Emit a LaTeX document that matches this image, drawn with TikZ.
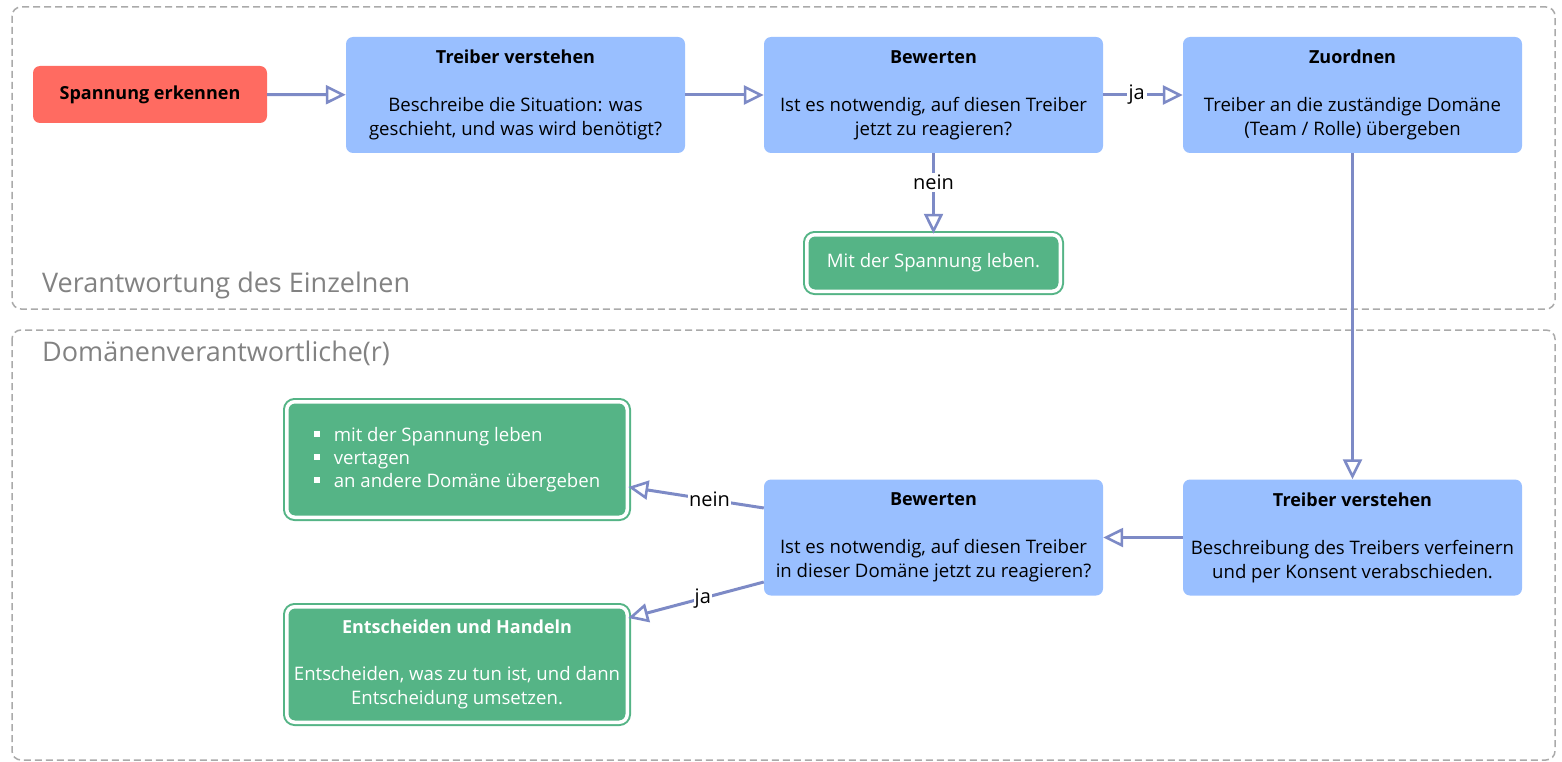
\documentclass[tikz,border=0pt]{standalone}
\usepackage{fontspec}
\setmainfont{Open Sans}
\usetikzlibrary{arrows.meta}
\definecolor{cred}{RGB}{255,107,97}
\definecolor{cblue}{RGB}{153,191,255}
\definecolor{cgreen}{RGB}{85,180,134}
\definecolor{carrow}{RGB}{125,138,198}
\definecolor{cdash}{RGB}{170,170,170}
\definecolor{clabel}{RGB}{130,130,130}
\newcommand{\ttl}[1]{{\fontsize{18}{24}\selectfont\bfseries #1}}
\newcommand{\sqbul}{\raisebox{4pt}{\rule{6pt}{6pt}}\hspace{14pt}}
\tikzset{
  txt/.style={font=\fontsize{18.6}{24}\selectfont},
  redbox/.style={txt, fill=cred, rounded corners=7pt, align=center, inner sep=0pt},
  bluebox/.style={txt, fill=cblue, rounded corners=7pt, align=center, inner sep=0pt,
    minimum width=339pt, minimum height=116pt},
  greenbox/.style={txt, text=white, fill=cgreen, draw=cgreen, double=white, double distance=3.5pt,
    line width=2pt, rounded corners=8pt, inner sep=0pt},
  lane/.style={draw=cdash, dash pattern=on 7pt off 4pt, line width=1.5pt, rounded corners=9pt},
  lanelabel/.style={font=\fontsize{27}{30}\selectfont, text=clabel, anchor=base west, inner sep=0pt},
  flow/.style={draw=carrow, line width=3pt, -{Triangle[open, length=20pt, width=19pt, line width=2.6pt, fill=white]}},
  lbl/.style={font=\fontsize{20}{24}\selectfont, fill=white, inner sep=2pt},
}
\begin{document}
\begin{tikzpicture}[x=1pt,y=-1pt]
\useasboundingbox (0,0) rectangle (1562,762);
% lanes
\draw[lane] (12,7) rectangle (1555,309);
\draw[lane] (12,330) rectangle (1555,760);
\node[lanelabel] (l1) at (42,292) {Verantwortung des Einzelnen};
\node[lanelabel] (l2) at (42,361) {Domänenverantwortliche(r)};
% nodes top
\node[redbox, minimum width=234pt, minimum height=57pt] (sp) at (150,94.5) {\ttl{Spannung erkennen}};
\node[bluebox] (tv1) at (515.5,95) {\ttl{Treiber verstehen}\\[24pt]Beschreibe die Situation: was\\geschieht, und was wird benötigt?};
\node[bluebox] (bw1) at (933.5,95) {\ttl{Bewerten}\\[24pt]Ist es notwendig, auf diesen Treiber\\jetzt zu reagieren?};
\node[bluebox] (zu) at (1352.5,95) {\ttl{Zuordnen}\\[24pt]Treiber an die zuständige Domäne\\(Team / Rolle) übergeben};
\node[greenbox, minimum width=253.5pt, minimum height=56.5pt] (mit) at (933.5,263) {Mit der Spannung leben.};
% nodes bottom
\node[bluebox] (tv2) at (1352.5,537.5) {\ttl{Treiber verstehen}\\[24pt]Beschreibung des Treibers verfeinern\\und per Konsent verabschieden.};
\node[bluebox] (bw2) at (933.5,537.5) {\ttl{Bewerten}\\[24pt]Ist es notwendig, auf diesen Treiber\\in dieser Domäne jetzt zu reagieren?};
\node[greenbox, minimum width=340.5pt, minimum height=115.5pt, align=left, font=\fontsize{18.6}{23}\selectfont] (bul) at (457,459.5)
  {\sqbul mit der Spannung leben\\
   \sqbul vertagen\\
   \sqbul an andere Domäne übergeben};
\node[greenbox, minimum width=340.5pt, minimum height=115.5pt, align=center, font=\fontsize{18.6}{23.5}\selectfont] (ent) at (457,664.5)
  {{\fontsize{18}{23.5}\selectfont\bfseries Entscheiden und Handeln}\\[23.5pt]Entscheiden, was zu tun ist, und dann\\Entscheidung umsetzen.};
% connectors
\draw[flow] (sp) -- (tv1);
\draw[flow] (tv1) -- (bw1);
\draw[flow] (bw1) -- node[lbl, pos=0.42] (ja1) {ja} (zu);
\draw[flow] (bw1) -- node[lbl, pos=0.36] (nein1) {nein} (mit.north);
\draw[flow] (zu) -- (tv2);
\draw[flow] (tv2) -- (bw2);
\draw[flow] ([yshift=29.5pt]bw2.west) -- node[lbl, pos=0.4, inner sep=1pt] (nein2) {nein} ([yshift=-27.5pt]bul.east);
\draw[flow] ([yshift=-44.5pt]bw2.west) -- node[lbl, pos=0.45, inner sep=1pt] (ja2) {ja} ([yshift=46.5pt]ent.east);
\end{tikzpicture}
\end{document}
